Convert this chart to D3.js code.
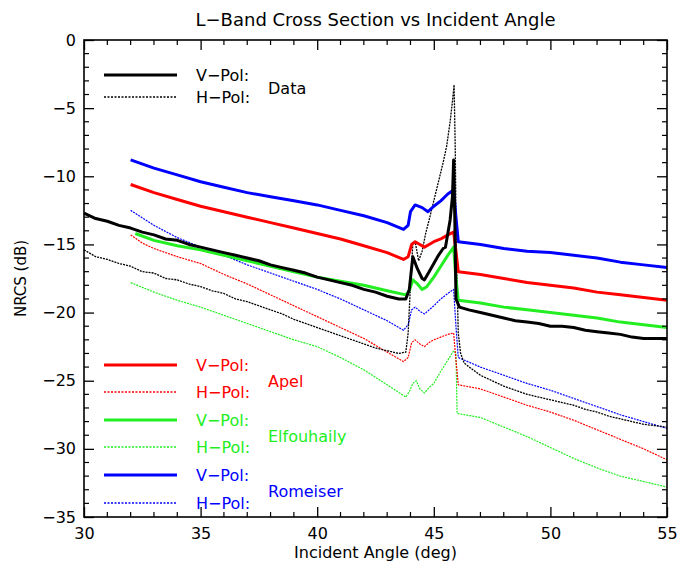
<!DOCTYPE html>
<html><head><meta charset="utf-8">
<script src="https://cdn.jsdelivr.net/npm/d3@7"></script>
<style>body{margin:0;background:#fff}svg{display:block}text{font-family:"DejaVu Sans",Arial,sans-serif}</style>
</head><body>
<svg id="c" width="678" height="565"></svg>
<script>
const xTicks=[30,35,40,45,50,55];
const yTicks=[0,-5,-10,-15,-20,-25,-30,-35];
const dataV=[[30,-12.7],[30.5,-13.1],[31,-13.3],[31.5,-13.6],[32,-13.8],[32.5,-14.1],[33,-14.3],[33.5,-14.6],[34,-14.7],[34.5,-15.0],[35,-15.2],[35.5,-15.4],[36,-15.6],[36.5,-15.8],[37,-16.0],[37.5,-16.2],[38,-16.5],[38.5,-16.7],[39,-16.9],[39.5,-17.1],[40,-17.4],[40.5,-17.6],[41,-17.8],[41.5,-18.0],[42,-18.3],[42.5,-18.5],[43,-18.8],[43.5,-19.0],[43.8,-19.0],[43.95,-18.3],[44.1,-15.9],[44.3,-16.8],[44.5,-17.5],[44.6,-17.6],[44.8,-17.0],[45.0,-16.4],[45.2,-15.8],[45.4,-15.3],[45.5,-15.2],[45.7,-13.2],[45.8,-11.5],[45.85,-8.8],[45.9,-13],[45.95,-19.0],[46.1,-19.6],[46.5,-19.8],[47,-20.0],[47.5,-20.2],[48,-20.4],[48.5,-20.6],[49,-20.7],[49.5,-20.8],[50,-21.0],[50.5,-21.0],[51,-21.1],[51.5,-21.3],[52,-21.4],[52.5,-21.5],[53,-21.6],[53.5,-21.8],[54,-21.9],[54.5,-21.9],[55,-21.9]];
const dataH=[[30,-15.4],[30.5,-15.9],[31,-16.1],[31.5,-16.4],[32,-16.6],[32.5,-17.0],[33,-17.1],[33.5,-17.5],[34,-17.6],[34.5,-17.9],[35,-18.1],[35.5,-18.4],[36,-18.6],[36.5,-19.0],[37,-19.2],[37.5,-19.5],[38,-19.8],[38.5,-20.1],[39,-20.5],[39.5,-20.8],[40,-21.1],[40.5,-21.4],[41,-21.7],[41.5,-22.0],[42,-22.3],[42.5,-22.6],[43,-22.8],[43.5,-23.0],[43.8,-22.9],[43.9,-21.5],[44.0,-18.0],[44.1,-15.0],[44.2,-14.8],[44.35,-16.2],[44.5,-15.5],[44.65,-14.2],[44.8,-13.2],[45.0,-11.8],[45.2,-10.4],[45.4,-9.0],[45.55,-7.8],[45.7,-6.0],[45.8,-4.5],[45.87,-3.3],[45.92,-8],[45.97,-16],[46.05,-21.5],[46.15,-23.0],[46.3,-23.7],[46.6,-24.1],[47,-24.6],[47.5,-25.0],[48,-25.4],[48.5,-25.7],[49,-26.0],[49.5,-26.2],[50,-26.4],[50.5,-26.6],[51,-26.8],[51.5,-27.1],[52,-27.3],[52.5,-27.6],[53,-27.8],[53.5,-28.0],[54,-28.2],[54.5,-28.3],[55,-28.4]];
const apelV=[[32,-10.6],[33,-11.2],[34,-11.7],[35,-12.2],[36,-12.6],[37,-13.0],[38,-13.4],[39,-13.8],[40,-14.2],[41,-14.6],[42,-15.1],[43,-15.6],[43.7,-16.1],[43.9,-15.9],[44.05,-15.0],[44.2,-14.8],[44.4,-15.0],[44.6,-15.2],[44.8,-15.0],[45.0,-14.8],[45.3,-14.6],[45.6,-14.3],[45.85,-14.1],[45.95,-15.5],[46.05,-17.0],[47,-17.2],[48,-17.5],[49,-17.8],[50,-18.0],[51,-18.2],[52,-18.5],[53,-18.7],[54,-18.9],[55,-19.1]];
const apelH=[[32,-14.3],[32.5,-14.9],[33,-15.3],[34,-15.9],[35,-16.4],[36,-17.2],[37,-17.9],[38,-18.7],[39,-19.5],[40,-20.3],[41,-21.1],[42,-21.9],[43,-22.9],[43.7,-23.6],[43.9,-23.3],[44.05,-22.2],[44.2,-22.0],[44.4,-22.3],[44.6,-22.5],[44.8,-22.2],[45.0,-22.0],[45.3,-21.8],[45.6,-21.6],[45.85,-21.5],[45.95,-23.5],[46.05,-25.3],[47,-25.6],[48,-26.2],[49,-26.8],[50,-27.3],[51,-27.9],[52,-28.6],[53,-29.3],[54,-30.0],[55,-30.8]];
const elfV=[[32.2,-14.2],[33,-14.7],[34,-15.1],[35,-15.4],[36,-15.8],[37,-16.2],[38,-16.6],[39,-17.0],[40,-17.4],[41,-17.7],[42,-18.0],[43,-18.4],[43.8,-18.7],[43.95,-18.4],[44.1,-17.6],[44.3,-17.9],[44.5,-18.3],[44.7,-18.1],[45.0,-17.4],[45.3,-16.6],[45.6,-15.8],[45.85,-15.2],[45.95,-17.5],[46.05,-19.1],[47,-19.3],[48,-19.6],[49,-19.8],[50,-20.0],[51,-20.2],[52,-20.4],[53,-20.7],[54,-20.9],[55,-21.1]];
const elfH=[[32,-17.8],[33,-18.5],[34,-19.1],[35,-19.6],[36,-20.2],[37,-20.8],[38,-21.4],[39,-22.0],[40,-22.5],[41,-23.3],[42,-24.2],[43,-25.3],[43.8,-26.2],[43.95,-25.8],[44.1,-25.2],[44.25,-25.0],[44.4,-25.6],[44.6,-25.9],[44.8,-25.5],[45.0,-25.2],[45.3,-24.3],[45.6,-23.5],[45.85,-22.8],[45.95,-23.0],[46.0,-27.4],[47,-27.7],[48,-28.4],[49,-29.1],[50,-29.9],[51,-30.7],[52,-31.4],[53,-32.0],[54,-32.4],[55,-32.8]];
const romV=[[32,-8.8],[33,-9.4],[34,-9.9],[35,-10.4],[36,-10.8],[37,-11.2],[38,-11.5],[39,-11.8],[40,-12.1],[41,-12.5],[42,-12.9],[43,-13.4],[43.7,-13.9],[43.9,-13.6],[44.0,-12.6],[44.2,-12.1],[44.5,-12.3],[44.75,-12.6],[45.0,-12.2],[45.3,-11.8],[45.6,-11.3],[45.85,-11.0],[45.95,-13.0],[46.05,-14.8],[47,-15.0],[48,-15.3],[49,-15.5],[50,-15.6],[51,-15.8],[52,-16.0],[53,-16.3],[54,-16.5],[55,-16.7]];
const romH=[[32,-12.5],[33,-13.6],[34,-14.5],[35,-15.2],[36,-15.8],[37,-16.5],[38,-17.1],[39,-17.7],[40,-18.3],[41,-19.0],[42,-19.8],[43,-20.6],[43.7,-21.3],[43.9,-20.9],[44.05,-19.8],[44.2,-19.6],[44.4,-19.9],[44.6,-20.1],[44.8,-19.8],[45.0,-19.5],[45.3,-19.0],[45.6,-18.6],[45.85,-18.3],[45.95,-21.0],[46.05,-23.3],[47,-24.0],[48,-24.6],[49,-25.2],[50,-25.7],[51,-26.3],[52,-26.9],[53,-27.5],[54,-28.0],[55,-28.5]];

const C={black:"#000",red:"#ff0000",green:"#22ee22",blue:"#0000ff"};
const series=[
 {d:elfH,c:C.green,w:1.2,dash:true},{d:apelH,c:C.red,w:1.2,dash:true},{d:romH,c:C.blue,w:1.2,dash:true},{d:dataH,c:C.black,w:1.3,dash:true},
 {d:elfV,c:C.green,w:3,dash:false},{d:apelV,c:C.red,w:3,dash:false},{d:romV,c:C.blue,w:3,dash:false},{d:dataV,c:C.black,w:3,dash:false}
];
const svg=d3.select("#c");
const L=84,R=667,T=40,B=517;
const x=d3.scaleLinear().domain([30,55]).range([L,R]);
const y=d3.scaleLinear().domain([-35,0]).range([B,T]);
const line=d3.line().x(d=>x(d[0])).y(d=>y(d[1]));
svg.append("g").selectAll("path.s").data(series).join("path").attr("class","s")
 .attr("d",s=>line(s.d)).attr("fill","none").attr("stroke",s=>s.c)
 .attr("stroke-width",s=>s.w).attr("stroke-dasharray",s=>s.dash?"2,1":null).attr("stroke-linejoin","round");

const fmt=v=>String(v).replace("-","\u2212");
const xg=svg.append("g").attr("transform",`translate(0,${B})`).call(d3.axisBottom(x).tickValues(xTicks).tickSizeInner(-10).tickSizeOuter(0).tickFormat(fmt).tickPadding(11));
const xg2=svg.append("g").attr("transform",`translate(0,${T})`).call(d3.axisTop(x).tickValues(xTicks).tickSizeInner(-10).tickSizeOuter(0).tickFormat(""));
const yg=svg.append("g").attr("transform",`translate(${L},0)`).call(d3.axisLeft(y).tickValues(yTicks).tickSizeInner(-10).tickSizeOuter(0).tickFormat(fmt).tickPadding(8));
const yg2=svg.append("g").attr("transform",`translate(${R},0)`).call(d3.axisRight(y).tickValues(yTicks).tickSizeInner(-10).tickSizeOuter(0).tickFormat(""));
[xg,xg2,yg,yg2].forEach(a=>{a.select(".domain").remove();a.selectAll("line").attr("stroke","#000").attr("stroke-width",1.3);a.selectAll("text").attr("font-size",16).attr("fill","#000").attr("font-family","DejaVu Sans, Arial, sans-serif");});
const xMin=d3.range(30,56,1), yMin=d3.range(-35,1,1);
const mx=xMin.filter(v=>!xTicks.includes(v)), my=yMin.filter(v=>!yTicks.includes(v));
const mt=svg.append("g").attr("stroke","#000").attr("stroke-width",1.2);
mt.selectAll(null).data(mx).join("line").attr("x1",d=>x(d)).attr("x2",d=>x(d)).attr("y1",B).attr("y2",B-5);
mt.selectAll(null).data(mx).join("line").attr("x1",d=>x(d)).attr("x2",d=>x(d)).attr("y1",T).attr("y2",T+5);
mt.selectAll(null).data(my).join("line").attr("y1",d=>y(d)).attr("y2",d=>y(d)).attr("x1",L).attr("x2",L+5);
mt.selectAll(null).data(my).join("line").attr("y1",d=>y(d)).attr("y2",d=>y(d)).attr("x1",R).attr("x2",R-5);
svg.append("rect").attr("x",L).attr("y",T).attr("width",R-L).attr("height",B-T).attr("fill","none").attr("stroke","#000").attr("stroke-width",1.6);

svg.append("text").attr("x",(L+R)/2).attr("y",26).attr("text-anchor","middle").attr("font-size",18).text("L\u2212Band Cross Section vs Incident Angle");
svg.append("text").attr("x",(L+R)/2).attr("y",558).attr("text-anchor","middle").attr("font-size",16).text("Incident Angle (deg)");
svg.append("text").attr("transform",`translate(26,${(T+B)/2}) rotate(-90)`).attr("text-anchor","middle").attr("font-size",15).text("NRCS (dB)");

const legends=[
 {name:"Data",c:C.black,yv:75,yh:97},
 {name:"Apel",c:C.red,yv:365,yh:392},
 {name:"Elfouhaily",c:C.green,yv:420,yh:447},
 {name:"Romeiser",c:C.blue,yv:475,yh:503}
];
const lg=svg.append("g");
legends.forEach(l=>{
 lg.append("line").attr("x1",104).attr("x2",177).attr("y1",l.yv).attr("y2",l.yv).attr("stroke",l.c).attr("stroke-width",3);
 lg.append("line").attr("x1",104).attr("x2",177).attr("y1",l.yh).attr("y2",l.yh).attr("stroke",l.c).attr("stroke-width",1.3).attr("stroke-dasharray","2,1.5");
 lg.append("text").attr("x",196).attr("y",l.yv+6).attr("font-size",16).attr("fill",l.c).text("V\u2212Pol:");
 lg.append("text").attr("x",196).attr("y",l.yh+6).attr("font-size",16).attr("fill",l.c).text("H\u2212Pol:");
 lg.append("text").attr("x",268).attr("y",(l.yv+l.yh)/2+8).attr("font-size",16).attr("fill",l.c).text(l.name);
});
</script>
</body></html>
